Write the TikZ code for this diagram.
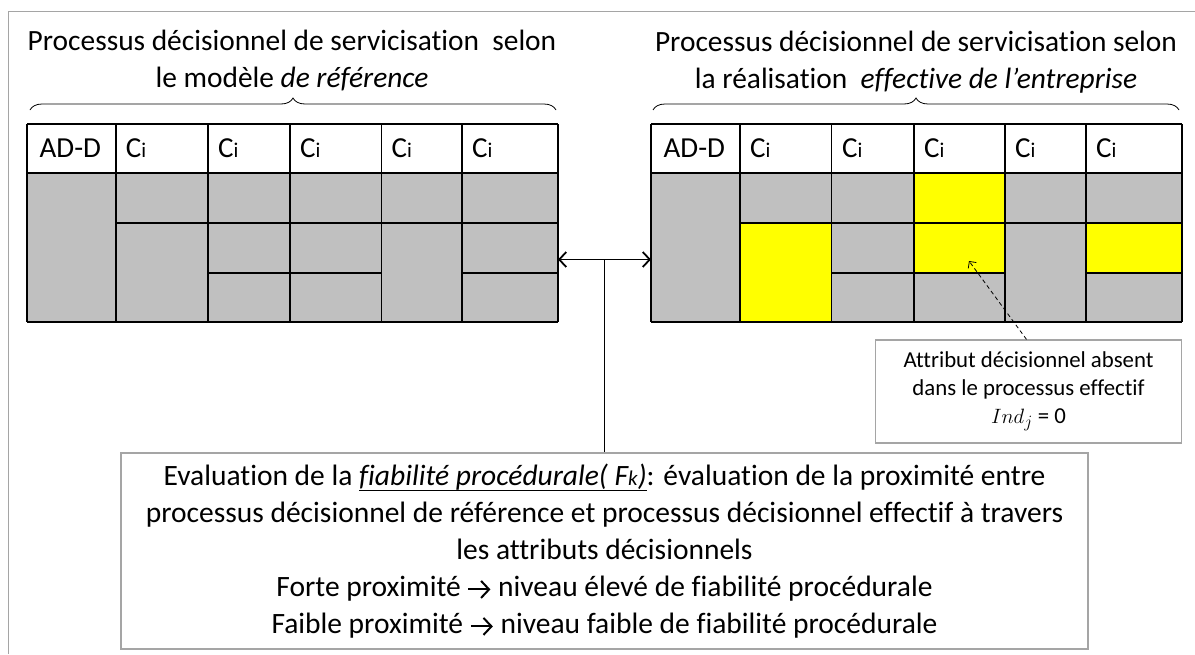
\documentclass[tikz,border=0pt]{standalone}
\usepackage{fontspec}
\setmainfont{Carlito}[Ligatures=NoCommon]
\usetikzlibrary{arrows.meta,decorations.pathreplacing}
\definecolor{cellgray}{RGB}{192,192,192}
\definecolor{cellyellow}{RGB}{255,255,0}
\definecolor{framegray}{RGB}{165,165,165}
\tikzset{
  gridline/.style={line width=1.8pt, black},
  headtext/.style={anchor=base west, font=\fontsize{29}{35}\selectfont, inner sep=0pt},
  titletext/.style={anchor=base, font=\fontsize{29.4}{36}\selectfont, inner sep=0pt},
  bracestyle/.style={decorate, decoration={brace, amplitude=12pt, aspect=0.5}, line width=0.8pt},
  evalbox/.style={draw=framegray, line width=1.2pt, fill=white, align=center, inner sep=0pt,
     minimum width=967pt, minimum height=196pt, font=\fontsize{29.5}{37}\selectfont},
  attrbox/.style={draw=framegray, line width=1.2pt, fill=white, align=center, inner sep=0pt,
     minimum width=306pt, minimum height=103pt, font=\fontsize{22.8}{27.8}\selectfont},
  textarrow/.style={line width=2pt, -{Straight Barb[length=8pt,width=17pt,line width=2pt]}},
}
\newcommand{\ci}{C{\fontsize{21}{21}\selectfont i}}
\newsavebox{\ulbox}
\newcommand{\thickul}[1]{\sbox{\ulbox}{#1}\rlap{\usebox{\ulbox}}\raisebox{-6pt}{\rule{\wd\ulbox}{1.8pt}}}
\newcommand{\warrow}{\tikz[baseline=-7pt]\draw[textarrow] (0pt,0pt) -- (22pt,0pt);}
\begin{document}
\begin{tikzpicture}[x=1pt,y=-1pt]
\useasboundingbox (0,0) rectangle (1195,654);
% outer frame (partly visible)
\draw[framegray, line width=1pt] (8.3,654) -- (8.3,11.7) -- (1195,11.7);

% ---------- left table ----------
\fill[cellgray] (27,173) rectangle (558,322);
\draw[gridline] (27,124) -- (558,124);
\draw[gridline] (27,173) -- (558,173);
\draw[gridline] (27,322) -- (558,322);
\foreach \x in {27,115.6,207.8,289.7,381.5,462,558} \draw[gridline] (\x,124) -- (\x,322);
\draw[gridline] (115.6,223) -- (558,223);
\draw[gridline] (207.8,273) -- (381.5,273);
\draw[gridline] (462,273) -- (558,273);
\node[headtext] (lh1) at (39.5,157) {AD-D};
\node[headtext] (lh2) at (125.6,157) {\ci};
\node[headtext] (lh3) at (218,157) {\ci};
\node[headtext] (lh4) at (300,157) {\ci};
\node[headtext] (lh5) at (391.5,157) {\ci};
\node[headtext] (lh6) at (472,157) {\ci};

% ---------- right table ----------
\fill[cellgray] (651,173) rectangle (1182,322);
\fill[cellyellow] (740,223) rectangle (831.5,322);
\fill[cellyellow] (914,173) rectangle (1005,273);
\fill[cellyellow] (1086,223) rectangle (1182,273);
\draw[gridline] (651,124) -- (1182,124);
\draw[gridline] (651,173) -- (1182,173);
\draw[gridline] (651,322) -- (1182,322);
\foreach \x in {651,740,831.5,914,1005,1086,1182} \draw[gridline] (\x,124) -- (\x,322);
\draw[gridline] (740,223) -- (1182,223);
\draw[gridline] (831.5,273) -- (1005,273);
\draw[gridline] (1086,273) -- (1182,273);
\node[headtext] (rh1) at (663.5,157) {AD-D};
\node[headtext] (rh2) at (750,157) {\ci};
\node[headtext] (rh3) at (842,157) {\ci};
\node[headtext] (rh4) at (924,157) {\ci};
\node[headtext] (rh5) at (1015,157) {\ci};
\node[headtext] (rh6) at (1096,157) {\ci};

% ---------- titles and braces ----------
\node[titletext] (ltitle1) at (292,50) {Processus décisionnel de servicisation\ \ selon};
\node[titletext] (ltitle2) at (292,87) {le modèle \textit{de référence}};
\node[titletext] (rtitle1) at (916,51) {Processus décisionnel de servicisation selon};
\node[titletext] (rtitle2) at (916,88) {la réalisation\ \ \textit{effective de l’entreprise}};
\draw[bracestyle] (30,110) -- (556,110);
\draw[bracestyle] (653,110) -- (1179,110);

% ---------- connectors ----------
\coordinate (lend) at (558,259.5);
\coordinate (rend) at (651,259.5);
\coordinate (mid) at (604,259.5);
\draw[line width=1.8pt, {Straight Barb[length=7pt,width=15pt]}-{Straight Barb[length=7pt,width=15pt]}] (lend) -- (rend);

\node[evalbox] (eval) at (604.5,551) {Evaluation de la \thickul{\textit{fiabilité procédurale( F{\fontsize{21}{21}\selectfont k})}}: évaluation de la proximité entre\\
processus décisionnel de référence et processus décisionnel effectif à travers\\
les attributs décisionnels\\
Forte proximité \warrow{} niveau élevé de fiabilité procédurale\\
Faible proximité \warrow{} niveau faible de fiabilité procédurale};
\draw[line width=1pt] (mid) -- (eval.north -| mid);

\node[attrbox] (attr) at (1028.5,391.5) {Attribut décisionnel absent\\dans le processus effectif\\$Ind_j$ = 0};
\coordinate (missing) at (969,261);
\draw[line width=0.8pt, dash pattern=on 4pt off 3pt, -{Straight Barb[length=5pt,width=10pt]}] ([xshift=-2pt]attr.north) -- (missing);
\end{tikzpicture}
\end{document}
